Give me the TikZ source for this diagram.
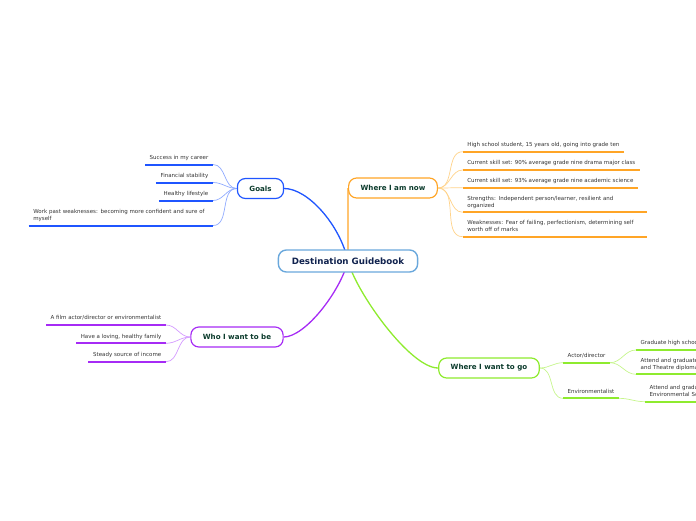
\documentclass[tikz,border=0pt]{standalone}
\usepackage{fontspec}
\setmainfont{DejaVu Sans}
\usetikzlibrary{backgrounds}

\definecolor{rootline}{HTML}{6AA8DC}
\definecolor{roottext}{HTML}{10224E}
\definecolor{maintext}{HTML}{0B3B2C}
\definecolor{leaftext}{HTML}{333333}
\definecolor{goalsdark}{HTML}{1F55FF}
\definecolor{goalslight}{HTML}{8FAAFF}
\definecolor{nowdark}{HTML}{FFA526}
\definecolor{nowlight}{HTML}{FFD38A}
\definecolor{whodark}{HTML}{A62BF5}
\definecolor{wholight}{HTML}{D49BFF}
\definecolor{godark}{HTML}{8EEB2E}
\definecolor{golight}{HTML}{C6F58C}

\begin{document}
\begin{tikzpicture}[x=1pt, y=-1pt,
	rootnode/.style={draw=rootline, line width=1.4pt, fill=white, rounded corners=8pt, minimum height=22pt, inner xsep=13.5pt, font=\fontsize{8.7}{10}\selectfont\bfseries, text=roottext},
	topic/.style={draw=#1, line width=1.2pt, fill=white, rounded corners=8pt, minimum height=20pt, inner xsep=12pt, font=\fontsize{7.1}{9}\selectfont\bfseries, text=maintext},
	leaf/.style={font=\fontsize{5.5}{7}\selectfont, text=leaftext, align=left, inner xsep=4.5pt, inner ysep=3.6pt, text depth=1.3pt, append after command={(\tikzlastnode.south west) edge[draw=#1, line width=2pt] (\tikzlastnode.south east)}},
	wide/.style={text width=175pt, text depth=8.3pt},
	branch/.style={draw=#1, line width=1.3pt},
	twig/.style={draw=#1, line width=0.7pt}]
	\path[use as bounding box, clip] (0,0) rectangle (696,520);

	% centre and main topics
	\node[rootnode] (root) at (348,261) {Destination Guidebook};
	\node[topic=goalsdark] (goals) at (260.5,188.5) {Goals};
	\node[topic=nowdark] (now) at (393,188) {Where I am now};
	\node[topic=whodark] (who) at (237,337) {Who I want to be};
	\node[topic=godark] (go) at (489,368) {Where I want to go};

	% goals
	\node[leaf=goalsdark, anchor=south east] (career) at (213,164.5) {Success in my career};
	\node[leaf=goalsdark, anchor=south east] (money) at (213,182.5) {Financial stability};
	\node[leaf=goalsdark, anchor=south east] (health) at (213,200.5) {Healthy lifestyle};
	\node[leaf=goalsdark, wide, anchor=south east] (weak) at (213,225.5) {Work past weaknesses: becoming more confident and sure of\\myself};

	% where I am now
	\node[leaf=nowdark, anchor=south west] (student) at (462.7,151.7) {High school student, 15 years old, going into grade ten};
	\node[leaf=nowdark, anchor=south west] (drama) at (462.7,170) {Current skill set: 90\% average grade nine drama major class};
	\node[leaf=nowdark, anchor=south west] (science) at (462.7,187.7) {Current skill set: 93\% average grade nine academic science};
	\node[leaf=nowdark, wide, anchor=south west] (strong) at (462.7,212.3) {Strengths: Independent person/learner, resilient and\\organized};
	\node[leaf=nowdark, wide, anchor=south west] (fear) at (462.7,236.7) {Weaknesses: Fear of failing, perfectionism, determining self\\worth off of marks};

	% who I want to be
	\node[leaf=whodark, anchor=south east] (actor) at (166,325) {A film actor/director or environmentalist};
	\node[leaf=whodark, anchor=south east] (family) at (166,343.3) {Have a loving, healthy family};
	\node[leaf=whodark, anchor=south east] (income) at (166,361.7) {Steady source of income};

	% where I want to go
	\node[leaf=godark, anchor=south west] (director) at (563,362.7) {Actor/director};
	\node[leaf=godark, anchor=south west] (enviro) at (563,398.3) {Environmentalist};
	\node[leaf=godark, anchor=south west] (school) at (636,350) {Graduate high school};
	\node[leaf=godark, wide, anchor=south west] (theatre) at (636,374.3) {Attend and graduate\\and Theatre diploma};
	\node[leaf=godark, wide, anchor=south west] (envsci) at (645,401.7) {Attend and graduate\\Environmental Science};

	\begin{scope}[on background layer]
		\draw[branch=goalsdark] (root.center) .. controls (340,225) and (308,188.5) .. (goals.east);
		\draw[branch=nowdark] (root.center) .. controls (348,230) and (348,188) .. (now.west);
		\draw[branch=whodark] (root.center) .. controls (340,292) and (305,337) .. (who.east);
		\draw[branch=godark] (root.center) .. controls (356,292) and (410,368) .. (go.west);
		\foreach \n in {career,money,health,weak}
			\draw[twig=goalslight] (goals.west) to[out=180, in=0] (\n.south east);
		\foreach \n in {student,drama,science,strong,fear}
			\draw[twig=nowlight] (now.east) to[out=0, in=180] (\n.south west);
		\foreach \n in {actor,family,income}
			\draw[twig=wholight] (who.west) to[out=180, in=0] (\n.south east);
		\foreach \n in {director,enviro}
			\draw[twig=golight] (go.east) to[out=0, in=180] (\n.south west);
		\foreach \n in {school,theatre}
			\draw[twig=golight] (director.south east) to[out=0, in=180] (\n.south west);
		\draw[twig=golight] (enviro.south east) to[out=0, in=180] (envsci.south west);
	\end{scope}
\end{tikzpicture}
\end{document}
